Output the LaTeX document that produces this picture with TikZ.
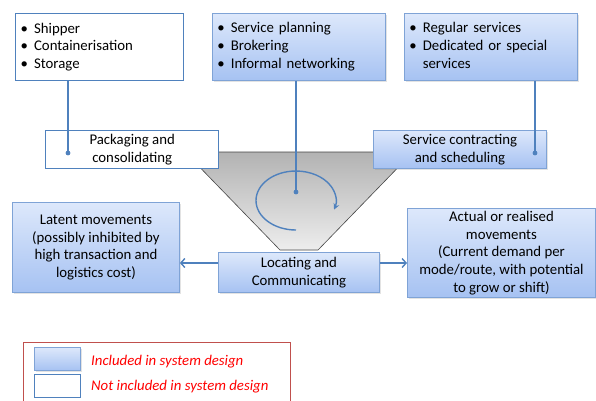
\documentclass[tikz,border=0pt]{standalone}
\usepackage{fontspec}
\setmainfont{Carlito}
\usetikzlibrary{arrows.meta,shadows}
\definecolor{bluetop}{HTML}{DDE8FB}
\definecolor{bluebot}{HTML}{A6C2F2}
\definecolor{bordc}{HTML}{7FA3D6}
\definecolor{linec}{HTML}{4F81BD}
\definecolor{legred}{HTML}{C0504D}
\tikzset{
  txt/.style={font=\fontsize{14.8}{17.75}\selectfont},
  bluebox/.style={txt, draw=bordc, line width=0.9pt, top color=bluetop, bottom color=bluebot,
     drop shadow={opacity=0.22, shadow xshift=1.2pt, shadow yshift=-1.2pt},
     anchor=north west, inner sep=0pt, align=center},
  whitebox/.style={txt, draw=linec, line width=1.4pt, fill=white, anchor=north west, inner sep=0pt, align=center},
  listbox/.style={inner xsep=5pt, align=left},
  conn/.style={draw=linec, line width=1.4pt},
  arr/.style={conn, -{Straight Barb[length=4pt,width=9pt,line width=1.4pt]}},
  dot/.style={fill=linec},
}
\newcommand{\bul}{\textbullet}
\begin{document}
\begin{tikzpicture}[x=1pt,y=-1pt]
\useasboundingbox (0,0) rectangle (596,400);
\clip (0,0) rectangle (596,400);
\fill[white] (0,0) rectangle (596,400);
% trapezoid
\shade[top color=gray!60, bottom color=gray!14, draw=gray!55!black, line width=0.6pt]
  (185,152) -- (413,152) -- (318,250) -- (280,250) -- cycle;
% top boxes
\node[whitebox, listbox, minimum width=168pt, minimum height=67pt, text width=158pt] (A) at (15,13)
 {\begin{tabular}{@{}l@{\hspace{6pt}}l@{}}\bul & Shipper\\ \bul & Containerisation\\ \bul & Storage\end{tabular}};
\node[bluebox, listbox, minimum width=173pt, minimum height=67pt, text width=163pt] (B) at (212,13)
 {\begin{tabular}{@{}l@{\hspace{6pt}}l@{}}\bul & Service planning\\ \bul & Brokering\\ \bul & Informal networking\end{tabular}};
\node[bluebox, listbox, minimum width=173pt, minimum height=67pt, text width=163pt] (C) at (404,13)
 {\begin{tabular}{@{}l@{\hspace{6pt}}l@{}}\bul & Regular services\\ \bul & Dedicated or special\\ & services\end{tabular}};
% middle boxes
\node[whitebox, minimum width=173pt, minimum height=38pt] (P) at (45,130) {Packaging and\\consolidating};
\node[bluebox, minimum width=173pt, minimum height=38pt] (S) at (373,130) {Service contracting\\and scheduling};
\node[bluebox, minimum width=167pt, minimum height=90pt] (Lat) at (12,202)
 {Latent movements\\(possibly inhibited by\\high transaction and\\logistics cost)};
\node[bluebox, minimum width=161pt, minimum height=40pt] (L) at (218,252) {Locating and\\Communicating};
\node[bluebox, minimum width=188pt, minimum height=89pt] (Act) at (407,208)
 {Actual or realised\\movements\\(Current demand per\\mode/route, with potential\\to grow or shift)};
% cycle arrow
\coordinate (dB) at (296,192);
\coordinate (arcstart) at (296,230);
\draw[conn, -{Stealth[length=6pt,width=6pt]}] (arcstart) arc[start angle=-90, end angle=-378, x radius=40pt, y radius=29.5pt];
% connectors
\coordinate (dA) at (68,153);
\coordinate (dC) at (535,153);
\draw[conn] (A.south -| dA) -- (dA);
\fill[dot] (dA) circle (2.4pt);
\draw[conn] (B.south -| dB) -- (dB);
\fill[dot] (dB) circle (2.4pt);
\draw[conn] (C.south -| dC) -- (dC);
\fill[dot] (dC) circle (2.4pt);
\coordinate (ya) at (0,263);
\draw[arr] (L.west |- ya) -- (Lat.east |- ya);
\draw[arr] (L.east |- ya) -- (Act.west |- ya);
% legend
\node[draw=legred, line width=1pt, fill=white, anchor=north west, minimum width=267pt, minimum height=70pt, inner sep=0pt] (leg) at (23,342) {};
\node[bluebox, drop shadow={opacity=0}, minimum width=46pt, minimum height=23pt] (sw1) at (34,347) {};
\node[whitebox, minimum width=46pt, minimum height=23pt] (sw2) at (34,374) {};
\node[txt, anchor=west, text=red, font=\fontsize{14.8}{17.75}\selectfont\itshape, inner sep=0pt] (t1) at (91,362) {Included in system design};
\node[txt, anchor=west, text=red, font=\fontsize{14.8}{17.75}\selectfont\itshape, inner sep=0pt] (t2) at (91,387) {Not included in system design};
\end{tikzpicture}
\end{document}
